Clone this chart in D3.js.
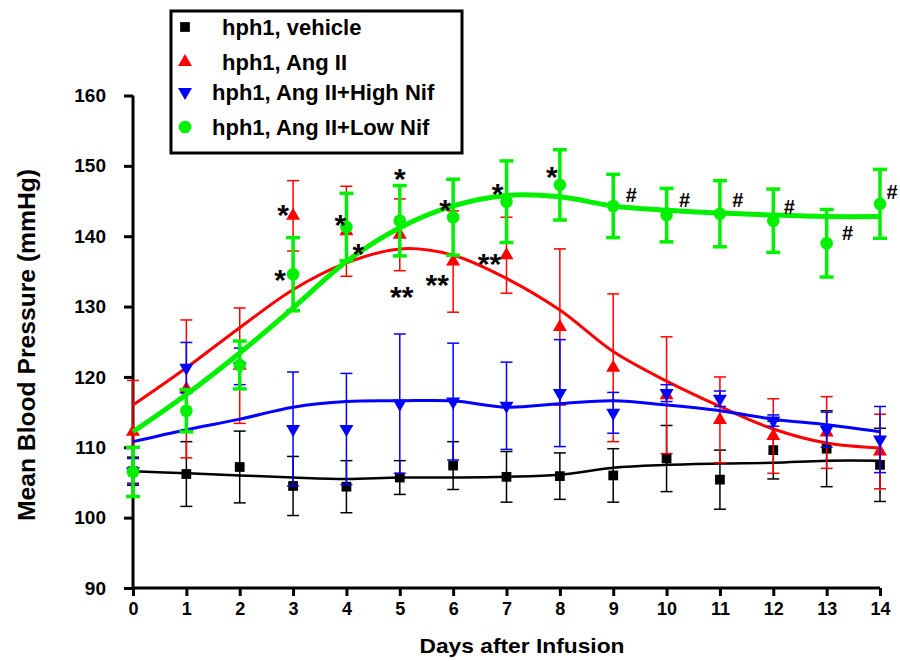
<!DOCTYPE html>
<html>
<head>
<meta charset="utf-8">
<script src="https://cdn.jsdelivr.net/npm/d3@7"></script>
<style>
  body { margin: 0; background: #fff; }
  svg { display: block; font-family: "Liberation Sans", Arial, sans-serif; font-weight: bold; }
</style>
</head>
<body>
<svg id="chart" width="900" height="661"></svg>
<script>
// data
const days = [0, 1, 2, 3, 4, 5, 6, 7, 8, 9, 10, 11, 12, 13, 14];
const xTicks = days;
const yTicks = [90, 100, 110, 120, 130, 140, 150, 160];

const vehicleMean = [106.6, 106.2, 107.2, 104.5, 104.4, 105.7, 107.4, 105.8, 105.9, 106.0, 108.4, 105.4, 109.6, 109.8, 107.5];
const vehicleErr  = [2.0, 4.6, 5.1, 4.2, 3.7, 2.4, 3.4, 3.6, 3.3, 3.8, 4.7, 4.2, 4.1, 5.4, 5.2];
const vehicleFit  = [106.6, 106.3, 106.0, 105.7, 105.5, 105.7, 105.7, 105.8, 106.1, 107.1, 107.5, 107.7, 107.8, 108.1, 108.1];

const angMean = [112.2, 118.3, 121.6, 142.9, 140.7, 140.2, 136.4, 137.3, 127.1, 121.3, 117.4, 113.9, 111.6, 112.1, 109.4];
const angErr  = [7.3, 9.8, 8.2, 5.0, 6.4, 5.1, 7.2, 5.4, 11.1, 10.5, 8.3, 6.1, 5.3, 5.1, 5.3];
const angFit  = [116.0, 121.3, 127.0, 132.4, 136.2, 138.2, 137.3, 134.0, 129.5, 123.6, 119.4, 115.8, 112.6, 110.6, 109.9];

const highMean = [106.6, 121.3, 121.5, 112.6, 112.6, 116.2, 116.5, 115.9, 117.7, 114.9, 117.7, 116.9, 113.8, 112.5, 111.1];
const highErr  = [1.8, 3.6, 2.6, 8.1, 7.9, 9.9, 8.3, 6.2, 7.6, 2.9, 1.2, 1.1, 0.8, 2.5, 4.7];
const highFit  = [110.8, 112.5, 114.0, 115.7, 116.5, 116.6, 116.6, 115.7, 116.2, 116.6, 116.0, 115.2, 114.0, 113.2, 112.2];

const lowMean = [106.5, 115.2, 121.7, 134.6, 141.3, 142.2, 142.7, 144.9, 147.3, 144.3, 143.0, 143.2, 142.2, 139.0, 144.6];
const lowErr  = [3.5, 3.0, 3.4, 5.2, 4.8, 5.0, 5.4, 5.8, 5.0, 4.5, 3.8, 4.7, 4.5, 4.8, 4.9];
const lowFit  = [112.2, 117.5, 123.4, 129.8, 136.4, 141.2, 144.3, 145.8, 145.6, 144.3, 143.7, 143.3, 143.0, 142.8, 142.8];

const legendLabels = ["hph1, vehicle", "hph1, Ang II", "hph1, Ang II+High Nif", "hph1, Ang II+Low Nif"];

// significance marks: [day, value at mark centre, text, dx]
const marks = [
  [3, 144.0, "*", -10], [3, 134.8, "*", -13],
  [4, 142.6, "*", -6], [4, 138.5, "*", 12],
  [5, 149.1, "*", 0], [5, 132.4, "**", 2],
  [6, 144.7, "*", -8], [6, 134.1, "**", -16],
  [7, 147.0, "*", -9], [7, 137.1, "**", -17],
  [8, 149.4, "*", -8],
  [9, 145.9, "#", 18], [10, 145.2, "#", 18], [11, 145.2, "#", 18],
  [12, 144.2, "#", 16], [13, 140.5, "#", 21], [14, 146.3, "#", 12]
];

const svg = d3.select("#chart");
const x = d3.scaleLinear().domain([0, 14]).range([133, 880]);
const y = d3.scaleLinear().domain([90, 160]).range([588, 95.5]);

// axes
const yAxis = d3.axisLeft(y).tickValues(yTicks).tickSize(9).tickFormat(d3.format("d"));
const gy = svg.append("g").attr("transform", "translate(133,0)").call(yAxis);
gy.select(".domain").attr("stroke-width", 3).attr("d", "M0," + y(160) + "V" + y(90));
gy.selectAll(".tick line").attr("stroke-width", 3);
gy.selectAll(".tick text").attr("font-size", 19).attr("x", -27).attr("fill", "#000");

const xAxis = d3.axisBottom(x).tickValues(xTicks).tickSize(8);
const gx = svg.append("g").attr("transform", "translate(0,588)").call(xAxis);
gx.select(".domain").attr("stroke-width", 3).attr("d", "M" + x(0) + ",0H" + x(14));
gx.selectAll(".tick line").attr("stroke-width", 3);
gx.selectAll(".tick text").attr("font-size", 18).attr("y", 14).attr("fill", "#000");

svg.append("text")
  .attr("transform", "translate(35,345) rotate(-90)")
  .attr("text-anchor", "middle").attr("font-size", 23)
  .attr("textLength", 352).attr("lengthAdjust", "spacingAndGlyphs")
  .text("Mean Blood Pressure (mmHg)");

svg.append("text")
  .attr("x", 522).attr("y", 653)
  .attr("text-anchor", "middle").attr("font-size", 21)
  .attr("textLength", 205).attr("lengthAdjust", "spacingAndGlyphs")
  .text("Days after Infusion");

const fitLine = d3.line().x((d, i) => x(days[i])).y(d => y(d)).curve(d3.curveCatmullRom);

const series = [
  {mean: vehicleMean, err: vehicleErr, fit: vehicleFit, color: "#000", shape: d3.symbolSquare, size: 95, lw: 2.5, ew: 1.5, cap: 6},
  {mean: angMean, err: angErr, fit: angFit, color: "#ff0000", shape: d3.symbolTriangle, size: 85, lw: 3, ew: 1.5, cap: 6},
  {mean: highMean, err: highErr, fit: highFit, color: "#0000ff", shape: d3.symbolTriangle, size: 85, lw: 3, ew: 1.5, cap: 6, flip: true},
  {mean: lowMean, err: lowErr, fit: lowFit, color: "#00f000", shape: d3.symbolCircle, size: 125, lw: 5, ew: 3.5, cap: 7}
];

series.forEach(s => {
  const g = svg.append("g");
  g.append("path").datum(s.fit)
    .attr("fill", "none").attr("stroke", s.color).attr("stroke-width", s.lw)
    .attr("d", fitLine);
  const bars = g.selectAll(".eb").data(days).enter().append("g");
  bars.append("line")
    .attr("x1", d => x(d)).attr("x2", d => x(d))
    .attr("y1", (d, i) => y(s.mean[i] + s.err[i]))
    .attr("y2", (d, i) => y(s.mean[i] - s.err[i]))
    .attr("stroke", s.color).attr("stroke-width", s.ew);
  [1, -1].forEach(sign => {
    bars.append("line")
      .attr("x1", d => x(d) - s.cap).attr("x2", d => x(d) + s.cap)
      .attr("y1", (d, i) => y(s.mean[i] + sign * s.err[i]))
      .attr("y2", (d, i) => y(s.mean[i] + sign * s.err[i]))
      .attr("stroke", s.color).attr("stroke-width", s.ew);
  });
  g.selectAll(".pt").data(days).enter().append("path")
    .attr("d", d3.symbol().type(s.shape).size(s.size))
    .attr("transform", (d, i) => "translate(" + x(d) + "," + y(s.mean[i]) + ")" + (s.flip ? " rotate(180)" : ""))
    .attr("fill", s.color);
});

// significance marks (baseline shifted so the glyph centre sits on the value)
svg.append("g").selectAll("text").data(marks).enter().append("text")
  .attr("x", d => x(d[0]) + d[3])
  .attr("y", d => y(d[1]) + (d[2] === "#" ? 7 : 17))
  .attr("text-anchor", "middle")
  .attr("font-size", d => d[2] === "#" ? 20 : 30)
  .text(d => d[2]);

// legend
const lg = svg.append("g");
lg.append("rect").attr("x", 171).attr("y", 11).attr("width", 291).attr("height", 142)
  .attr("fill", "#fff").attr("stroke", "#000").attr("stroke-width", 3);
const legendY = [27, 62, 92, 127];
const legendTx = [222, 222, 212, 212];
legendLabels.forEach((lab, i) => {
  const s = series[i];
  lg.append("path")
    .attr("d", d3.symbol().type(s.shape).size(s.size))
    .attr("transform", "translate(185," + legendY[i] + ")" + (s.flip ? " rotate(180)" : ""))
    .attr("fill", s.color);
  lg.append("text").attr("x", legendTx[i]).attr("y", legendY[i] + 8)
    .attr("font-size", 22).text(lab);
});
</script>
</body>
</html>
